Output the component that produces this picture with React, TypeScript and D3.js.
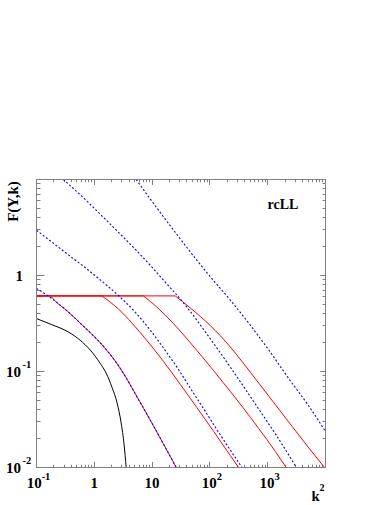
import React from 'react';
import * as d3 from 'd3';

// values (k^2, F(Y,k))
const blackK2 = [0.1, 0.183, 0.356, 0.567, 0.845, 1.26, 1.6, 2.04, 2.48, 2.91, 3.28, 3.56];
const blackF = [0.356, 0.308, 0.258, 0.212, 0.168, 0.122, 0.0964, 0.0675, 0.0471, 0.0292, 0.0172, 0.01];

// red: flat part up to the break, then falling
const red1K2 = [0.1, 0.175, 0.209, 0.334, 0.647, 1.26, 2.62, 3.66, 5.09, 9.93, 26.2];
const red1F = [0.613, 0.613, 0.545, 0.431, 0.297, 0.2, 0.115, 0.0835, 0.059, 0.029, 0.01];
const red2K2 = [0.1, 1.35, 2.62, 4.52, 8.13, 15.8, 30.7, 59.7, 116, 226, 314];
const red2F = [0.613, 0.613, 0.447, 0.318, 0.21, 0.127, 0.0735, 0.042, 0.0238, 0.0133, 0.01];
const red3K2 = [0.1, 7.1, 12.1, 23.5, 45.7, 116, 226, 360, 698, 1358, 2080];
const red3F = [0.613, 0.613, 0.469, 0.315, 0.2, 0.102, 0.0619, 0.0433, 0.0255, 0.0147, 0.01];
const red4K2 = [0.1, 25.1, 45.7, 102, 226, 360, 698, 1358, 2647, 5140, 10000];
const red4F = [0.613, 0.613, 0.46, 0.3, 0.18, 0.127, 0.0758, 0.0451, 0.0268, 0.016, 0.0097];

const blue1K2 = [0.1, 0.171, 0.334, 0.647, 1.26, 2.62, 3.66, 5.09, 9.93, 26.2];
const blue1F = [0.733, 0.594, 0.431, 0.297, 0.2, 0.115, 0.0835, 0.059, 0.029, 0.01];
const blue2K2 = [0.1, 0.183, 0.356, 0.693, 1.35, 2.62, 5.09, 9.27, 15.8, 26.9, 45.7, 89, 151, 360];
const blue2F = [2.96, 2.24, 1.64, 1.21, 0.873, 0.617, 0.416, 0.27, 0.175, 0.111, 0.0673, 0.0361, 0.0219, 0.01];
const blue3K2 = [0.291, 0.693, 1.35, 2.62, 5.09, 9.27, 15.8, 40.1, 89, 226, 698, 1358, 3140];
const blue3F = [10, 6.21, 4.19, 2.82, 1.88, 1.28, 0.893, 0.468, 0.245, 0.111, 0.0407, 0.0224, 0.01];
const blue4K2 = [5.3, 9.27, 25.1, 59.7, 116, 226, 469, 1040, 2311, 5140, 10000];
const blue4F = [10, 6.28, 2.82, 1.44, 0.883, 0.553, 0.319, 0.168, 0.0845, 0.0437, 0.0237];

const xLabelValues = [0.1, 1, 10, 100, 1000];
const xLabelBases = ['10', '1', '10', '10', '10'];
const xLabelExps = ['-1', '', '', '2', '3'];
const yLabelValues = [0.01, 0.1, 1];
const yLabelBases = ['10', '10', '1'];
const yLabelExps = ['-2', '-1', ''];

const font = "'Liberation Serif', 'Times New Roman', serif";
const frame = { left: 36.5, right: 325.5, top: 179.5, bottom: 467.5 };
const axisColor = '#808080';

const isMajor = (v: number) => Math.abs(Math.log10(v) - Math.round(Math.log10(v))) < 1e-6;

export default function App() {
  const x = d3.scaleLog().domain([0.1, 1e4]).range([frame.left, frame.right]);
  const y = d3.scaleLog().domain([0.01, 10]).range([frame.bottom, frame.top]);
  const smooth = d3.line<[number, number]>()
    .x(d => x(d[0]))
    .y(d => y(d[1]))
    .curve(d3.curveMonotoneX);
  const straight = d3.line<[number, number]>()
    .x(d => x(d[0]))
    .y(d => y(d[1]));
  const pts = (ks: number[], fs: number[]) => ks.map((k, i) => [k, fs[i]] as [number, number]);
  const path = (ks: number[], fs: number[]) => smooth(pts(ks, fs)) || '';
  // plateau drawn straight, then a sharp break into the falling curve
  const redPath = (ks: number[], fs: number[]) => {
    const p = pts(ks, fs);
    return (straight(p.slice(0, 2)) || '') + (smooth(p.slice(1)) || '');
  };

  const xTicks = x.ticks();
  const yTicks = y.ticks();
  const px = (v: number) => Math.round(v - 0.5) + 0.5;

  const reds = [[red1K2, red1F], [red2K2, red2F], [red3K2, red3F], [red4K2, red4F]];
  const blues = [[blue1K2, blue1F], [blue2K2, blue2F], [blue3K2, blue3F], [blue4K2, blue4F]];

  return (
    <svg width={390} height={505} style={{ position: 'absolute', left: 0, top: 0, background: '#fff' }}>
      <defs>
        <clipPath id="plot">
          <rect x={frame.left} y={frame.top} width={frame.right - frame.left} height={frame.bottom - frame.top} />
        </clipPath>
      </defs>
      <rect width={390} height={505} fill="#fff" />

      {/* ticks */}
      <g stroke={axisColor} strokeWidth={1}>
        {xTicks.map((t, i) => {
          const xx = px(x(t));
          const maj = isMajor(t);
          return (
            <g key={'xt' + i}>
              <line x1={xx} x2={xx} y1={frame.bottom} y2={frame.bottom - (maj ? 5.5 : 2.75)} />
              <line x1={xx} x2={xx} y1={frame.top} y2={frame.top + (maj ? 5.5 : 2.75)} />
            </g>
          );
        })}
        {yTicks.map((t, i) => {
          const yy = px(y(t));
          const maj = isMajor(t);
          return (
            <g key={'yt' + i}>
              <line x1={frame.left} x2={frame.left + (maj ? 8 : 4)} y1={yy} y2={yy} />
              <line x1={frame.right} x2={frame.right - (maj ? 5.5 : 3)} y1={yy} y2={yy} />
            </g>
          );
        })}
      </g>

      {/* curves */}
      <g clipPath="url(#plot)" fill="none">
        <path d={path(blackK2, blackF)} stroke="#000" strokeWidth={1} />
        {reds.map((r, i) => (
          <path key={'r' + i} d={redPath(r[0], r[1])} stroke="#ff0000" strokeWidth={1} />
        ))}
        {blues.map((b, i) => (
          <path key={'b' + i} d={path(b[0], b[1])} stroke="#0000ff" strokeWidth={1.1} strokeDasharray="2 2" />
        ))}
      </g>

      <rect x={frame.left} y={frame.top} width={frame.right - frame.left} height={frame.bottom - frame.top}
        fill="none" stroke={axisColor} strokeWidth={1} />

      {/* tick labels and titles */}
      <g fontFamily={font} fontWeight="bold" fill="#000">
        {xLabelValues.map((v, i) => (
          <text key={'xl' + i} x={x(v) + (xLabelExps[i] ? 2 : 0)} y={488} textAnchor="middle" fontSize={15}>
            {xLabelBases[i]}
            {xLabelExps[i] && <tspan dy={-8} fontSize={10.5}>{xLabelExps[i]}</tspan>}
          </text>
        ))}
        {yLabelValues.map((v, i) => (
          <g key={'yl' + i}>
            <text x={yLabelExps[i] ? 21 : 23} y={y(v) + 5} textAnchor="end" fontSize={15}>{yLabelBases[i]}</text>
            {yLabelExps[i] && (
              <text x={22.5} y={y(v) - 3.5} textAnchor="start" fontSize={10.5}>{yLabelExps[i]}</text>
            )}
          </g>
        ))}
        <text transform="translate(18,201.5) rotate(-90)" textAnchor="middle" fontSize={15}>F(Y,k)</text>
        <text x={311.5} y={501} fontSize={14.5}>k<tspan dy={-10} fontSize={10}>2</tspan></text>
        <text x={267.5} y={208.5} fontSize={14}>rcLL</text>
      </g>
    </svg>
  );
}
